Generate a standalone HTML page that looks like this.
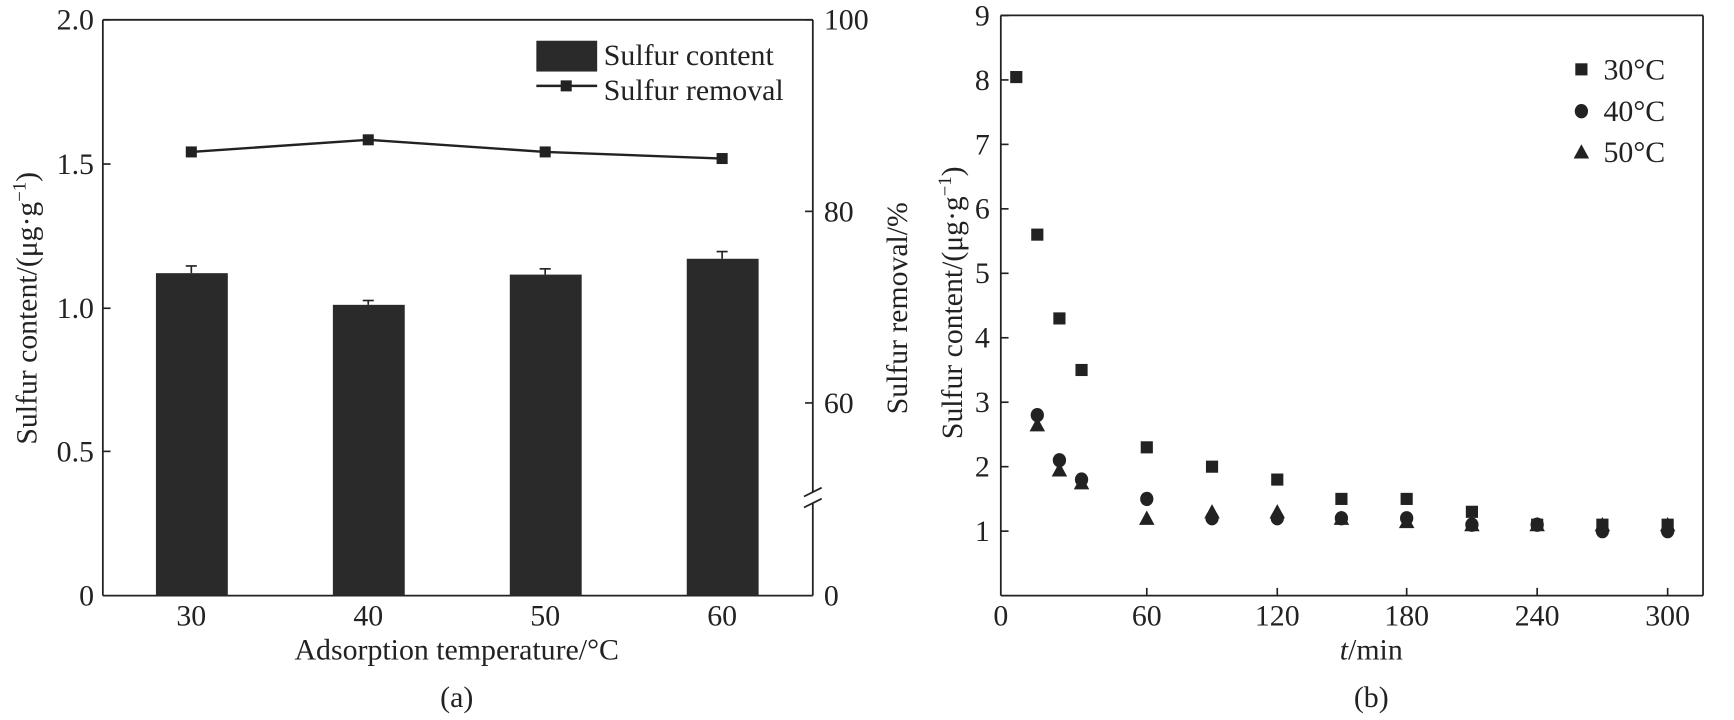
<!DOCTYPE html>
<html><head><meta charset="utf-8"><style>
html,body{margin:0;padding:0;background:#fff;width:1734px;height:720px;overflow:hidden}
svg{display:block}
text{font-family:"Liberation Serif",serif;fill:#222}
</style></head><body>
<svg id="s" width="1734" height="720" viewBox="0 0 1568 654" preserveAspectRatio="none" xmlns="http://www.w3.org/2000/svg">
<g stroke="#222" stroke-width="1.6" fill="none">
<line x1="93" y1="18" x2="93" y2="541"/>
<line x1="93" y1="541" x2="735" y2="541"/>
<line x1="93" y1="18" x2="735" y2="18"/>
<line x1="735" y1="18" x2="735" y2="447"/>
<line x1="735" y1="457" x2="735" y2="541"/>
<line x1="727" y1="451" x2="743" y2="443"/>
<line x1="727" y1="461" x2="743" y2="453"/>
<line x1="905" y1="14" x2="905" y2="541"/>
<line x1="905" y1="541" x2="1540" y2="541"/>
<line x1="905" y1="14" x2="1540" y2="14"/>
<line x1="1540" y1="14" x2="1540" y2="541"/>
</g>
<g id="a"></g>
<g id="b"></g>
<g font-size="27">
<text x="85" y="27" text-anchor="end">2.0</text>
<text x="85" y="158" text-anchor="end">1.5</text>
<text x="85" y="289" text-anchor="end">1.0</text>
<text x="85" y="419" text-anchor="end">0.5</text>
<text x="85" y="550" text-anchor="end">0</text>
<text x="745" y="27">100</text>
<text x="745" y="201">80</text>
<text x="745" y="375">60</text>
<text x="745" y="550">0</text>
<text x="173" y="568" text-anchor="middle">30</text>
<text x="333" y="568" text-anchor="middle">40</text>
<text x="493" y="568" text-anchor="middle">50</text>
<text x="653" y="568" text-anchor="middle">60</text>
<text x="413" y="599" text-anchor="middle">Adsorption temperature/°C</text>
<text x="413" y="642" text-anchor="middle">(a)</text>
<text transform="translate(33,280) rotate(-90)" text-anchor="middle">Sulfur content/(μg·g<tspan font-size="17" dy="-10">−1</tspan><tspan dy="10">)</tspan></text>
<text transform="translate(820,280) rotate(-90)" text-anchor="middle">Sulfur removal/%</text>
<text x="546" y="59">Sulfur content</text>
<text x="546" y="91">Sulfur removal</text>
<text transform="translate(870,275) rotate(-90)" text-anchor="middle">Sulfur content/(μg·g<tspan font-size="17" dy="-10">−1</tspan><tspan dy="10">)</tspan></text>
<text x="1240" y="599" text-anchor="middle"><tspan font-style="italic">t</tspan>/min</text>
<text x="1240" y="642" text-anchor="middle">(b)</text>
<text x="1450" y="72">30°C</text>
<text x="1450" y="110">40°C</text>
<text x="1450" y="147">50°C</text>
</g>
<g id="tb" font-size="27"></g>
</svg>
<script>
var NS="http://www.w3.org/2000/svg";
function el(p,t,a){var e=document.createElementNS(NS,t);for(var k in a)e.setAttribute(k,a[k]);document.getElementById(p).appendChild(e);return e;}
var cx=[173,333,493,653],v=[1.12,1.01,1.115,1.17],er=[0.025,0.015,0.02,0.025],ly=[138,127,138,144];
function ya(x){return 541-x*261.5;}
for(var i=0;i<4;i++){
 el("a","rect",{x:cx[i]-32,y:ya(v[i]),width:65,height:541-ya(v[i]),fill:"#2a2a2a"});
 el("a","line",{x1:cx[i],y1:ya(v[i]),x2:cx[i],y2:ya(v[i]+er[i]),stroke:"#222","stroke-width":1.5});
 el("a","line",{x1:cx[i]-5,y1:ya(v[i]+er[i]),x2:cx[i]+5,y2:ya(v[i]+er[i]),stroke:"#222","stroke-width":1.5});
}
el("a","polyline",{points:cx.map(function(x,i){return x+","+ly[i]}).join(" "),fill:"none",stroke:"#222","stroke-width":2.2});
for(i=0;i<4;i++)el("a","rect",{x:cx[i]-5,y:ly[i]-5,width:10,height:10,fill:"#222"});
[18,149,280,410].forEach(function(y){el("a","line",{x1:93,y1:y,x2:100,y2:y,stroke:"#222","stroke-width":1.5});});
[18,192,366].forEach(function(y){el("a","line",{x1:735,y1:y,x2:728,y2:y,stroke:"#222","stroke-width":1.5});});
el("a","rect",{x:485,y:37,width:55,height:28,fill:"#2a2a2a"});
el("a","line",{x1:485,y1:78,x2:540,y2:78,stroke:"#222","stroke-width":2.2});
el("a","rect",{x:507,y:73,width:10,height:10,fill:"#222"});
function yb(v){return 541-v*58.55;}
for(var k=0;k<=9;k++){var y=yb(k);if(k>0){el("b","line",{x1:905,y1:y,x2:912,y2:y,stroke:"#222","stroke-width":1.5});var t=el("tb","text",{x:895,y:y+9,"text-anchor":"end"});t.textContent=k;}}
var t0=el("tb","text",{x:905,y:568,"text-anchor":"middle"});t0.textContent="0";
[[60,1037],[120,1155],[180,1272],[240,1390],[300,1508]].forEach(function(m){el("b","line",{x1:m[1],y1:541,x2:m[1],y2:534,stroke:"#222","stroke-width":1.5});var t=el("tb","text",{x:m[1],y:568,"text-anchor":"middle"});t.textContent=m[0];});
function sq(x,y){el("b","rect",{x:x-5.5,y:y-5.5,width:11,height:11,fill:"#222"});}
function ci(x,y){el("b","ellipse",{cx:x,cy:y,rx:6,ry:6.5,fill:"#222"});}
function tr(x,y){el("b","polygon",{points:(x)+","+(y-7)+" "+(x-7)+","+(y+6)+" "+(x+7)+","+(y+6),fill:"#222"});}
var X=[938,958,978,1037,1096,1155,1213,1272,1331,1390,1449,1508];
var d30=[5.6,4.3,3.5,2.3,2.0,1.8,1.5,1.5,1.3,1.1,1.1,1.1];
var d40=[2.8,2.1,1.8,1.5,1.2,1.2,1.2,1.2,1.1,1.1,1.0,1.0];
var d50=[2.65,1.95,1.75,1.2,1.3,1.3,1.2,1.15,1.1,1.1,1.1,1.1];
sq(919,70);
for(i=0;i<X.length;i++){sq(X[i],yb(d30[i]));tr(X[i],yb(d50[i]));ci(X[i],yb(d40[i]));}
sq(1430,63);ci(1430,101);tr(1430,138);
</script>
</body></html>
